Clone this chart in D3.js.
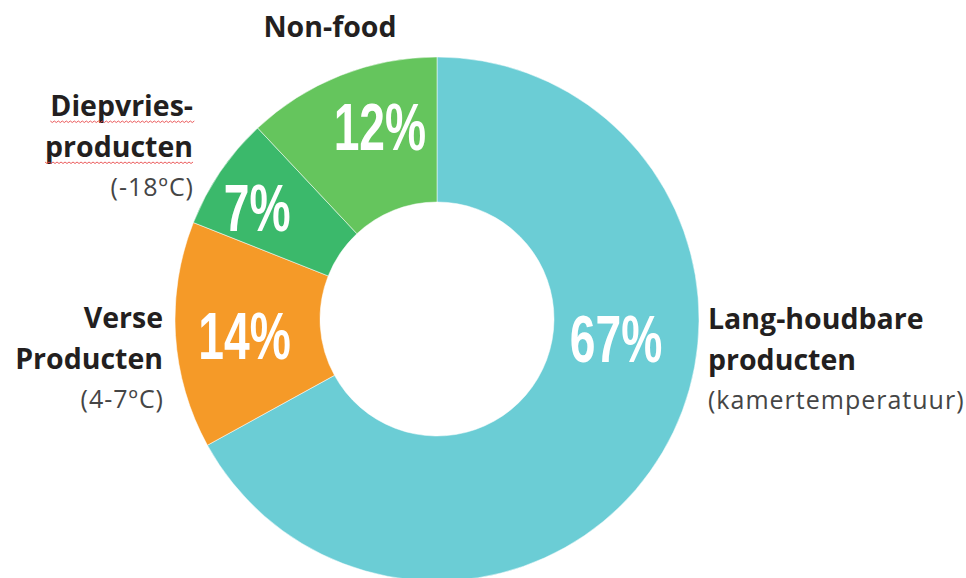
<!DOCTYPE html>
<html>
<head>
<meta charset="utf-8">
<script src="https://cdn.jsdelivr.net/npm/d3@7"></script>
<style>
  body { margin: 0; background: #fff; }
  .name { font-family: "Open Sans", sans-serif; font-weight: 700; fill: #231f20; }
  .sub { font-family: "Open Sans", sans-serif; font-weight: 400; fill: #454545; letter-spacing: 1px; }
  .pct { font-family: "Liberation Sans", Arial, sans-serif; font-weight: 700; fill: #fff; }
</style>
</head>
<body>
<svg id="chart" width="966" height="578"></svg>
<script>
// data
const categories = ["Lang-houdbare producten", "Verse Producten", "Diepvries-producten", "Non-food"];
const values = [67, 14, 7, 12];
const colors = ["#6bcdd5", "#f59a28", "#3bb96b", "#65c55d"];
const nameLines = [["Lang-houdbare", "producten"], ["Verse", "Producten"], ["Diepvries-", "producten"], ["Non-food"]];
const subLines = ["(kamertemperatuur)", "(4-7ºC)", "(-18ºC)", ""];

const svg = d3.select("#chart");
const cx = 437, cy = 319;
const outerR = 262, innerR = 117;

const pie = d3.pie().sort(null).value(d => d);
const arc = d3.arc().innerRadius(innerR).outerRadius(outerR);
const arcs = pie(values);

const g = svg.append("g").attr("transform", `translate(${cx},${cy})`);

g.selectAll("path.slice")
    .data(arcs)
    .enter()
    .append("path")
    .attr("class", "slice")
    .attr("d", arc)
    .attr("fill", (d, i) => colors[i])
    .attr("stroke", "#fff")
    .attr("stroke-opacity", 0.5)
    .attr("stroke-width", 1);

// percentage labels: placed by angle (deg, clockwise from top) and radius
const pctPlace = [[96, 180], [-94.6, 193], [-58, 212], [-16.5, 201]];
const pctScaleX = 0.69;
arcs.forEach((d, i) => {
    const [a, r] = pctPlace[i];
    const [x, y] = d3.pointRadial(a * Math.PI / 180, r);
    g.append("text")
        .attr("class", "pct")
        .attr("transform", `translate(${x},${y}) scale(${pctScaleX},1)`)
        .attr("text-anchor", "middle")
        .attr("dy", "0.36em")
        .attr("font-size", 67)
        .text(Math.round(d.data) + "%");
});

// category labels
const labelPlace = [
    {x: 708, y: 329, anchor: "start"},
    {x: 163, y: 328, anchor: "end"},
    {x: 193, y: 116, anchor: "end"},
    {x: 330, y: 37, anchor: "middle"}
];
const lineGap = 41;
categories.forEach((c, i) => {
    const p = labelPlace[i];
    nameLines[i].forEach((line, j) => {
        const t = svg.append("text")
            .attr("class", "name")
            .attr("x", p.x)
            .attr("y", p.y + j * lineGap)
            .attr("text-anchor", p.anchor)
            .attr("font-size", 28.5)
            .text(line);
        if (i === 2) {
            // spell-check squiggle
            const bb = t.node().getBBox();
            const y0 = p.y + j * lineGap + 5;
            let dStr = `M${bb.x},${y0}`;
            for (let x = bb.x, k = 0; x < bb.x + bb.width; x += 2, k++) {
                dStr += `L${x + 2},${y0 + (k % 2 ? 0 : 1.5)}`;
            }
            svg.append("path").attr("d", dStr).attr("fill", "none")
                .attr("stroke", "#e8484a").attr("stroke-width", 0.9);
        }
    });
    if (subLines[i]) {
        svg.append("text")
            .attr("class", "sub")
            .attr("x", p.anchor === "end" ? p.x + 1 : p.x)
            .attr("y", p.y + nameLines[i].length * lineGap - 2)
            .attr("text-anchor", p.anchor)
            .attr("font-size", 25)
            .text(subLines[i]);
    }
});
</script>
</body>
</html>
